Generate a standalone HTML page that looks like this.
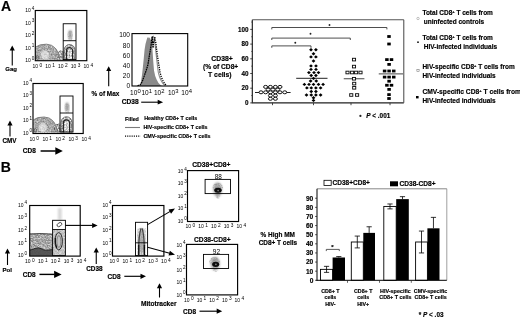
<!DOCTYPE html>
<html lang="en"><head><meta charset="utf-8"><title>Figure</title>
<style>html,body{margin:0;padding:0;background:#fff;overflow:hidden}svg{display:block}text{font-family:'Liberation Sans', sans-serif;fill:#000}text[font-weight=bold]{stroke:#000;stroke-width:0.16px}</style></head><body>
<svg width="520" height="319" viewBox="0 0 520 319">
<defs><filter id="b1" x="-30%" y="-30%" width="160%" height="160%"><feGaussianBlur stdDeviation="0.6"/></filter><filter id="b2" x="-30%" y="-30%" width="160%" height="160%"><feGaussianBlur stdDeviation="1.2"/></filter><filter id="b3" x="-50%" y="-50%" width="200%" height="200%"><feGaussianBlur stdDeviation="2"/></filter><filter id="sp" x="-10%" y="-10%" width="120%" height="120%"><feTurbulence type="fractalNoise" baseFrequency="0.7" numOctaves="2" seed="7" result="n"/><feColorMatrix in="n" type="matrix" values="0 0 0 0 0  0 0 0 0 0  0 0 0 0 0  1.9 0 0 0 -0.5" result="m"/><feComposite in="SourceGraphic" in2="m" operator="in" result="c"/><feGaussianBlur in="c" stdDeviation="0.5"/></filter></defs>
<rect x="0" y="0" width="520" height="319" fill="#fff"/>
<text x="0.9" y="11.4" font-size="14" font-weight="bold" text-anchor="start" >A</text>
<text x="0.7" y="172.2" font-size="14" font-weight="bold" text-anchor="start" >B</text>
<path d="M35.699999999999996,59.8 L35.699999999999996,47.3 Q39.3,44.0 46.5,44.199999999999996 A13.2,15.6 0 0 1 59.7,59.8 L63.2,52.8 L63.2,59.8 Z" fill="#c8c8c8" opacity="0.8" filter="url(#b1)"/>
<g filter="url(#sp)">
<path d="M35.699999999999996,59.8 L35.699999999999996,47.3 Q39.3,44.0 46.5,44.199999999999996 A13.2,15.6 0 0 1 59.7,59.8 Z" fill="#777"/>
<path d="M54.7,59.8 Q57.7,49.8 61.2,50.3 L63.7,51.8 L63.7,59.8 Z" fill="#555"/>
</g>
<g filter="url(#b1)" fill="none">
<path d="M35.9,47.0 Q39.3,44.0 46.5,44.199999999999996 A13.2,15.6 0 0 1 59.7,59.8" stroke="#777" stroke-width="0.9"/>
<path d="M36.1,59.8 A9.8,11.8 0 0 1 55.7,59.8" stroke="#999" stroke-width="0.7"/>
<path d="M38.7,59.8 A6.6,8 0 0 1 51.9,59.8" stroke="#aaa" stroke-width="0.7"/>
<ellipse cx="45.0" cy="54.8" rx="4.2" ry="4.4" fill="#fff" opacity="0.55"/>
<ellipse cx="37.699999999999996" cy="57.599999999999994" rx="1.3" ry="1.8" stroke="#555" stroke-width="0.7"/>
</g>
<line x1="36.3" y1="59.9" x2="63.2" y2="59.9" stroke="#111" stroke-width="1.5" filter="url(#b1)"/>
<line x1="36.199999999999996" y1="59.8" x2="36.199999999999996" y2="47.3" stroke="#333" stroke-width="1.1" filter="url(#b1)"/>
<path d="M64.1,59.8 L64.1,49.8 A5.5,5.5 0 0 1 75.1,49.8 L75.1,59.8 Z" fill="#666" filter="url(#sp)"/>
<g filter="url(#b1)" fill="none">
<path d="M64.3,59.8 L64.3,49.8 A5.3,5.3 0 0 1 74.9,49.8 L74.9,59.8" stroke="#666" stroke-width="0.8"/>
<path d="M66.6,59.8 L66.6,50.5 A3.0,3.0 0 0 1 72.6,50.5 L72.6,59.8" stroke="#222" stroke-width="1.15"/>
<path d="M68.4,59.8 L68.4,51.0 A1.2,1.2 0 0 1 70.8,51.0 L70.8,59.8" stroke="#fff" stroke-width="0.8" opacity="0.9"/>
</g>
<ellipse cx="70.2" cy="34.7" rx="1.7" ry="4.6" fill="#777" opacity="0.75" filter="url(#b2)"/>
<ellipse cx="70.2" cy="35.7" rx="2.6" ry="5.5" fill="#888" opacity="0.5" filter="url(#sp)"/>
<rect x="35.3" y="10.5" width="51.5" height="50.2" fill="none" stroke="#000" stroke-width="1.15" />
<rect x="63.2" y="23.75" width="12.8" height="35.85" fill="none" stroke="#000" stroke-width="0.9" />
<line x1="63.2" y1="40.7" x2="76" y2="40.7" stroke="#000" stroke-width="0.9" />
<text x="25.3" y="62.2" font-size="5" font-weight="normal">10<tspan dx="1.0" dy="-2.4" font-size="4.6">0</tspan></text>
<text x="25.3" y="49.75" font-size="5" font-weight="normal">10<tspan dx="1.0" dy="-2.4" font-size="4.6">1</tspan></text>
<text x="25.3" y="37.3" font-size="5" font-weight="normal">10<tspan dx="1.0" dy="-2.4" font-size="4.6">2</tspan></text>
<text x="25.3" y="24.85" font-size="5" font-weight="normal">10<tspan dx="1.0" dy="-2.4" font-size="4.6">3</tspan></text>
<text x="25.3" y="12.4" font-size="5" font-weight="normal">10<tspan dx="1.0" dy="-2.4" font-size="4.6">4</tspan></text>
<text x="32.6" y="68.2" font-size="5" font-weight="normal">10<tspan dx="1.4" dy="-1.3" font-size="4.8">0</tspan></text>
<text x="45.35" y="68.2" font-size="5" font-weight="normal">10<tspan dx="1.4" dy="-1.3" font-size="4.8">1</tspan></text>
<text x="58.1" y="68.2" font-size="5" font-weight="normal">10<tspan dx="1.4" dy="-1.3" font-size="4.8">2</tspan></text>
<text x="70.85" y="68.2" font-size="5" font-weight="normal">10<tspan dx="1.4" dy="-1.3" font-size="4.8">3</tspan></text>
<text x="83.6" y="68.2" font-size="5" font-weight="normal">10<tspan dx="1.4" dy="-1.3" font-size="4.8">4</tspan></text>
<line x1="12.25" y1="65.6" x2="12.25" y2="50.1" stroke="#000" stroke-width="1.1" />
<polygon points="12.25,45.6 14.85,50.6 9.65,50.6" fill="#000"/>
<text x="11.1" y="71.3" font-size="6" font-weight="bold" text-anchor="middle" >Gag</text>
<path d="M33.4,132.6 L33.4,120.1 Q37,116.8 44.2,117.0 A13.2,15.6 0 0 1 57.4,132.6 L60,125.6 L60,132.6 Z" fill="#c8c8c8" opacity="0.8" filter="url(#b1)"/>
<g filter="url(#sp)">
<path d="M33.4,132.6 L33.4,120.1 Q37,116.8 44.2,117.0 A13.2,15.6 0 0 1 57.4,132.6 Z" fill="#777"/>
<path d="M52.4,132.6 Q55.4,122.6 58.9,123.1 L60.5,124.6 L60.5,132.6 Z" fill="#555"/>
</g>
<g filter="url(#b1)" fill="none">
<path d="M33.6,119.8 Q37,116.8 44.2,117.0 A13.2,15.6 0 0 1 57.4,132.6" stroke="#777" stroke-width="0.9"/>
<path d="M33.8,132.6 A9.8,11.8 0 0 1 53.4,132.6" stroke="#999" stroke-width="0.7"/>
<path d="M36.4,132.6 A6.6,8 0 0 1 49.6,132.6" stroke="#aaa" stroke-width="0.7"/>
<ellipse cx="42.7" cy="127.6" rx="4.2" ry="4.4" fill="#fff" opacity="0.55"/>
<ellipse cx="35.4" cy="130.4" rx="1.3" ry="1.8" stroke="#555" stroke-width="0.7"/>
</g>
<line x1="34" y1="132.7" x2="60" y2="132.7" stroke="#111" stroke-width="1.5" filter="url(#b1)"/>
<line x1="33.9" y1="132.6" x2="33.9" y2="120.1" stroke="#333" stroke-width="1.1" filter="url(#b1)"/>
<path d="M60.9,132.6 L60.9,122.2 A5.6,5.6 0 0 1 72.1,122.2 L72.1,132.6 Z" fill="#666" filter="url(#sp)"/>
<g filter="url(#b1)" fill="none">
<path d="M61.1,132.6 L61.1,122.2 A5.4,5.4 0 0 1 71.9,122.2 L71.9,132.6" stroke="#666" stroke-width="0.8"/>
<path d="M63.4,132.6 L63.4,122.9 A3.1,3.1 0 0 1 69.6,122.9 L69.6,132.6" stroke="#222" stroke-width="1.15"/>
<path d="M65.2,132.6 L65.2,123.4 A1.3,1.3 0 0 1 67.8,123.4 L67.8,132.6" stroke="#fff" stroke-width="0.8" opacity="0.9"/>
</g>
<ellipse cx="67.1" cy="107" rx="1.7" ry="4.6" fill="#777" opacity="0.75" filter="url(#b2)"/>
<ellipse cx="67.1" cy="108" rx="2.6" ry="5.5" fill="#888" opacity="0.5" filter="url(#sp)"/>
<rect x="33" y="83.5" width="50.2" height="50.0" fill="none" stroke="#000" stroke-width="1.15" />
<rect x="60" y="96" width="13" height="36" fill="none" stroke="#000" stroke-width="0.9" />
<line x1="60" y1="113" x2="73" y2="113" stroke="#000" stroke-width="0.9" />
<text x="23" y="134.8" font-size="5" font-weight="normal">10<tspan dx="1.0" dy="-2.4" font-size="4.6">0</tspan></text>
<text x="23" y="122.3" font-size="5" font-weight="normal">10<tspan dx="1.0" dy="-2.4" font-size="4.6">1</tspan></text>
<text x="23" y="109.8" font-size="5" font-weight="normal">10<tspan dx="1.0" dy="-2.4" font-size="4.6">2</tspan></text>
<text x="23" y="97.3" font-size="5" font-weight="normal">10<tspan dx="1.0" dy="-2.4" font-size="4.6">3</tspan></text>
<text x="23" y="84.8" font-size="5" font-weight="normal">10<tspan dx="1.0" dy="-2.4" font-size="4.6">4</tspan></text>
<text x="29.4" y="141.0" font-size="5" font-weight="normal">10<tspan dx="1.4" dy="-1.3" font-size="4.8">0</tspan></text>
<text x="42.4" y="141.0" font-size="5" font-weight="normal">10<tspan dx="1.4" dy="-1.3" font-size="4.8">1</tspan></text>
<text x="55.4" y="141.0" font-size="5" font-weight="normal">10<tspan dx="1.4" dy="-1.3" font-size="4.8">2</tspan></text>
<text x="68.4" y="141.0" font-size="5" font-weight="normal">10<tspan dx="1.4" dy="-1.3" font-size="4.8">3</tspan></text>
<text x="81.4" y="141.0" font-size="5" font-weight="normal">10<tspan dx="1.4" dy="-1.3" font-size="4.8">4</tspan></text>
<line x1="10" y1="136.5" x2="10.0" y2="125.0" stroke="#000" stroke-width="1.1" />
<polygon points="10,120.5 12.6,125.5 7.4,125.5" fill="#000"/>
<text x="9.5" y="143" font-size="6.3" font-weight="bold" text-anchor="middle" >CMV</text>
<text x="22.8" y="153.1" font-size="6.5" font-weight="bold" text-anchor="start" >CD8</text>
<line x1="40.6" y1="151" x2="55.8" y2="151.0" stroke="#000" stroke-width="1.5" />
<polygon points="62.8,151 55.3,154.7 55.3,147.3" fill="#000"/>
<path d="M139.3,86 L140.8,83 L142,75 L142.9,67 L143.8,58 L144.6,49.5 L145.5,44 L146.4,40.8 L147.2,38 L148.1,36.9 L149,38.5 L149.8,37.3 L150.6,40 L151.3,39 L152,43 L152.7,53 L153.3,62 L154,70.6 L155.2,76 L156.6,79.4 L158.5,83 L160.5,85 L162,86 Z" fill="#8a8a8a"/>
<path d="M142,86 L144,82 L146,74 L148,63 L149.5,53 L151,44 L152.5,38 L153.6,36.5 L154.8,42.5 L155.7,50 L156.6,58.3 L157.5,66 L158.3,72.4 L159.6,77 L161,80.2 L162.8,83.5 L165,85.5" fill="none" stroke="#8c8c8c" stroke-width="1.1"/>
<path d="M137.5,85.7 L140,85 L142,82 L144.3,75.9 L146,71 L147.8,65.3 L148.7,60 L149.5,54.8 L150.3,50 L151,46 L151.6,40 L152.2,36.6 L152.6,42 L153,47.8 L153.5,44 L154,40.8 L154.8,37.3" fill="none" stroke="#000" stroke-width="1.25" stroke-dasharray="1.7 0.6" stroke-linejoin="round"/>
<path d="M154.8,37.3 L155.7,42 L156.6,49.5 L157.5,56 L158.3,61.8 L159.2,67 L160,72.4 L161.3,77 L162.7,80.2 L164.5,83.5 L166.5,85.6" fill="none" stroke="#000" stroke-width="1.35" stroke-dasharray="1.2 1.1"/>
<rect x="132" y="33.6" width="55.7" height="52.4" fill="none" stroke="#000" stroke-width="1.1" />
<text x="130" y="88.3" font-size="6.5" font-weight="normal" text-anchor="end" >0</text>
<text x="130" y="78.1" font-size="6.5" font-weight="normal" text-anchor="end" >20</text>
<text x="130" y="67.9" font-size="6.5" font-weight="normal" text-anchor="end" >40</text>
<text x="130" y="57.7" font-size="6.5" font-weight="normal" text-anchor="end" >60</text>
<text x="130" y="47.5" font-size="6.5" font-weight="normal" text-anchor="end" >80</text>
<text x="130" y="37.3" font-size="6.5" font-weight="normal" text-anchor="end" >100</text>
<text x="130.1" y="95.2" font-size="6.5" font-weight="normal">10<tspan dx="0.1" dy="-2" font-size="5.9">0</tspan></text>
<text x="141.4" y="95.2" font-size="6.5" font-weight="normal">10<tspan dx="0.1" dy="-2" font-size="5.9">1</tspan></text>
<text x="153.9" y="95.2" font-size="6.5" font-weight="normal">10<tspan dx="0.1" dy="-2" font-size="5.9">2</tspan></text>
<text x="168.0" y="95.2" font-size="6.5" font-weight="normal">10<tspan dx="0.1" dy="-2" font-size="5.9">3</tspan></text>
<text x="181.3" y="95.2" font-size="6.5" font-weight="normal">10<tspan dx="0.1" dy="-2" font-size="5.9">4</tspan></text>
<text x="121.7" y="104.3" font-size="6.6" font-weight="bold" text-anchor="start" >CD38</text>
<line x1="141.2" y1="102.2" x2="158.2" y2="102.2" stroke="#000" stroke-width="1.1" />
<polygon points="163.1,102.2 157.7,104.6 157.7,99.8" fill="#000"/>
<line x1="108.7" y1="86.3" x2="108.7" y2="70.5" stroke="#000" stroke-width="1.1" />
<polygon points="108.7,66.2 111.2,71.0 106.2,71.0" fill="#000"/>
<text x="105.4" y="96.4" font-size="6.4" font-weight="bold" text-anchor="middle" >% of Max</text>
<text x="125" y="120.6" font-size="5.3" font-weight="bold" text-anchor="start" >Filled</text>
<text x="144.2" y="120.3" font-size="5.4" font-weight="bold" text-anchor="start" >Healthy CD8+ T cells</text>
<line x1="125" y1="127.5" x2="140" y2="127.5" stroke="#7a7a7a" stroke-width="1.1" />
<text x="143.5" y="129" font-size="5.37" font-weight="bold" text-anchor="start" >HIV-specific CD8+ T cells</text>
<line x1="125" y1="136.1" x2="140.5" y2="136.1" stroke="#000" stroke-width="1.3" stroke-dasharray="1.1 1.1"/>
<text x="143.5" y="137.9" font-size="5.37" font-weight="bold" text-anchor="start" >CMV-specific CD8+ T cells</text>
<text x="222" y="61" font-size="6.8" font-weight="bold" text-anchor="middle" >CD38+</text>
<text x="220.6" y="69.2" font-size="6.65" font-weight="bold" text-anchor="middle" >(% of CD8+</text>
<text x="219.8" y="76.8" font-size="6.8" font-weight="bold" text-anchor="middle" >T cells)</text>
<text x="248.6" y="105.15" font-size="6.3" font-weight="bold" text-anchor="end" >0</text>
<line x1="250.2" y1="102.9" x2="252.3" y2="102.9" stroke="#222" stroke-width="0.8" />
<text x="248.6" y="90.45" font-size="6.3" font-weight="bold" text-anchor="end" >20</text>
<line x1="250.2" y1="88.2" x2="252.3" y2="88.2" stroke="#222" stroke-width="0.8" />
<text x="248.6" y="75.75" font-size="6.3" font-weight="bold" text-anchor="end" >40</text>
<line x1="250.2" y1="73.5" x2="252.3" y2="73.5" stroke="#222" stroke-width="0.8" />
<text x="248.6" y="61.05" font-size="6.3" font-weight="bold" text-anchor="end" >60</text>
<line x1="250.2" y1="58.8" x2="252.3" y2="58.8" stroke="#222" stroke-width="0.8" />
<text x="248.6" y="46.35" font-size="6.3" font-weight="bold" text-anchor="end" >80</text>
<line x1="250.2" y1="44.1" x2="252.3" y2="44.1" stroke="#222" stroke-width="0.8" />
<text x="248.6" y="31.65" font-size="6.3" font-weight="bold" text-anchor="end" >100</text>
<line x1="250.2" y1="29.4" x2="252.3" y2="29.4" stroke="#222" stroke-width="0.8" />
<line x1="251" y1="95.55" x2="252.3" y2="95.55" stroke="#444" stroke-width="0.6" />
<line x1="251" y1="80.85" x2="252.3" y2="80.85" stroke="#444" stroke-width="0.6" />
<line x1="251" y1="66.15" x2="252.3" y2="66.15" stroke="#444" stroke-width="0.6" />
<line x1="251" y1="51.45" x2="252.3" y2="51.45" stroke="#444" stroke-width="0.6" />
<line x1="251" y1="36.75" x2="252.3" y2="36.75" stroke="#444" stroke-width="0.6" />
<line x1="251" y1="22.05" x2="252.3" y2="22.05" stroke="#444" stroke-width="0.6" />
<line x1="252.3" y1="19.8" x2="252.3" y2="102.8" stroke="#111" stroke-width="1.1" />
<line x1="251.8" y1="102.8" x2="403.8" y2="102.8" stroke="#222" stroke-width="1.2" />
<line x1="252.3" y1="19.8" x2="403.8" y2="19.8" stroke="#555" stroke-width="1.1" />
<line x1="403.8" y1="19.8" x2="403.8" y2="102.8" stroke="#444" stroke-width="1.0" />
<line x1="272.5" y1="102.8" x2="272.5" y2="105.2" stroke="#333" stroke-width="0.9" />
<line x1="313.5" y1="102.8" x2="313.5" y2="105.2" stroke="#333" stroke-width="0.9" />
<line x1="351" y1="102.8" x2="351" y2="105.2" stroke="#333" stroke-width="0.9" />
<line x1="390" y1="102.8" x2="390" y2="105.2" stroke="#333" stroke-width="0.9" />
<path d="M271.8,29.4 L271.8,27.5 L386.9,27.5 L386.9,29.4" fill="none" stroke="#3a3a3a" stroke-width="0.9"/>
<path d="M271.8,40.0 L271.8,38.1 L350.3,38.1 L350.3,40.0" fill="none" stroke="#3a3a3a" stroke-width="0.9"/>
<path d="M271.8,47.8 L271.8,45.9 L311,45.9 L311,47.8" fill="none" stroke="#3a3a3a" stroke-width="0.9"/>
<circle cx="329.5" cy="25" r="0.95" fill="#222"/>
<circle cx="310.5" cy="33.8" r="0.95" fill="#222"/>
<circle cx="295.3" cy="42.7" r="0.95" fill="#222"/>
<line x1="255" y1="92.5" x2="290.6" y2="92.5" stroke="#222" stroke-width="1" />
<ellipse cx="265.6" cy="86.9" rx="2.0" ry="1.5" fill="#fff" stroke="#111" stroke-width="1"/>
<ellipse cx="270.4" cy="86.9" rx="2.0" ry="1.5" fill="#fff" stroke="#111" stroke-width="1"/>
<ellipse cx="275.4" cy="86.9" rx="2.0" ry="1.5" fill="#fff" stroke="#111" stroke-width="1"/>
<ellipse cx="280" cy="86.9" rx="2.0" ry="1.5" fill="#fff" stroke="#111" stroke-width="1"/>
<ellipse cx="268.1" cy="89.6" rx="2.0" ry="1.5" fill="#fff" stroke="#111" stroke-width="1"/>
<ellipse cx="272.9" cy="89.6" rx="2.0" ry="1.5" fill="#fff" stroke="#111" stroke-width="1"/>
<ellipse cx="277.75" cy="89.6" rx="2.0" ry="1.5" fill="#fff" stroke="#111" stroke-width="1"/>
<ellipse cx="261" cy="92.3" rx="2.0" ry="1.5" fill="#fff" stroke="#111" stroke-width="1"/>
<ellipse cx="265.6" cy="92.3" rx="2.0" ry="1.5" fill="#fff" stroke="#111" stroke-width="1"/>
<ellipse cx="270.4" cy="92.3" rx="2.0" ry="1.5" fill="#fff" stroke="#111" stroke-width="1"/>
<ellipse cx="275.4" cy="92.3" rx="2.0" ry="1.5" fill="#fff" stroke="#111" stroke-width="1"/>
<ellipse cx="280" cy="92.3" rx="2.0" ry="1.5" fill="#fff" stroke="#111" stroke-width="1"/>
<ellipse cx="284.75" cy="92.3" rx="2.0" ry="1.5" fill="#fff" stroke="#111" stroke-width="1"/>
<ellipse cx="270.4" cy="95.6" rx="2.0" ry="1.5" fill="#fff" stroke="#111" stroke-width="1"/>
<ellipse cx="275.4" cy="95.6" rx="2.0" ry="1.5" fill="#fff" stroke="#111" stroke-width="1"/>
<ellipse cx="270.4" cy="98.8" rx="2.0" ry="1.5" fill="#fff" stroke="#111" stroke-width="1"/>
<ellipse cx="275.4" cy="98.8" rx="2.0" ry="1.5" fill="#fff" stroke="#111" stroke-width="1"/>
<line x1="296.2" y1="78.3" x2="327.5" y2="78.3" stroke="#222" stroke-width="1" />
<path d="M309.1,49.75 L311,48.05 L312.9,49.75 L311,51.45 Z" fill="#000"/>
<path d="M314.0,49.75 L315.9,48.05 L317.79999999999995,49.75 L315.9,51.45 Z" fill="#000"/>
<path d="M311.6,53.75 L313.5,52.05 L315.4,53.75 L313.5,55.45 Z" fill="#000"/>
<path d="M309.1,56.9 L311,55.199999999999996 L312.9,56.9 L311,58.6 Z" fill="#000"/>
<path d="M314.0,56.9 L315.9,55.199999999999996 L317.79999999999995,56.9 L315.9,58.6 Z" fill="#000"/>
<path d="M311.6,61 L313.5,59.3 L315.4,61 L313.5,62.7 Z" fill="#000"/>
<path d="M309.1,65.9 L311,64.2 L312.9,65.9 L311,67.60000000000001 Z" fill="#000"/>
<path d="M314.1,65.9 L316,64.2 L317.9,65.9 L316,67.60000000000001 Z" fill="#000"/>
<path d="M309.1,69.4 L311,67.7 L312.9,69.4 L311,71.10000000000001 Z" fill="#000"/>
<path d="M314.1,69.4 L316,67.7 L317.9,69.4 L316,71.10000000000001 Z" fill="#000"/>
<path d="M307.0,72.6 L308.9,70.89999999999999 L310.79999999999995,72.6 L308.9,74.3 Z" fill="#000"/>
<path d="M312.1,72.6 L314,70.89999999999999 L315.9,72.6 L314,74.3 Z" fill="#000"/>
<path d="M316.6,72.6 L318.5,70.89999999999999 L320.4,72.6 L318.5,74.3 Z" fill="#000"/>
<path d="M309.3,75.5 L311.2,73.8 L313.09999999999997,75.5 L311.2,77.2 Z" fill="#000"/>
<path d="M314.0,75.5 L315.9,73.8 L317.79999999999995,75.5 L315.9,77.2 Z" fill="#000"/>
<path d="M311.6,78.4 L313.5,76.7 L315.4,78.4 L313.5,80.10000000000001 Z" fill="#000"/>
<path d="M308.70000000000005,81 L310.6,79.3 L312.5,81 L310.6,82.7 Z" fill="#000"/>
<path d="M314.35,81 L316.25,79.3 L318.15,81 L316.25,82.7 Z" fill="#000"/>
<path d="M302.5,84.4 L304.4,82.7 L306.29999999999995,84.4 L304.4,86.10000000000001 Z" fill="#000"/>
<path d="M307.1,84.4 L309,82.7 L310.9,84.4 L309,86.10000000000001 Z" fill="#000"/>
<path d="M311.6,84.4 L313.5,82.7 L315.4,84.4 L313.5,86.10000000000001 Z" fill="#000"/>
<path d="M316.6,84.4 L318.5,82.7 L320.4,84.4 L318.5,86.10000000000001 Z" fill="#000"/>
<path d="M321.20000000000005,84.4 L323.1,82.7 L325.0,84.4 L323.1,86.10000000000001 Z" fill="#000"/>
<path d="M305.0,87.9 L306.9,86.2 L308.79999999999995,87.9 L306.9,89.60000000000001 Z" fill="#000"/>
<path d="M309.35,87.9 L311.25,86.2 L313.15,87.9 L311.25,89.60000000000001 Z" fill="#000"/>
<path d="M314.0,87.9 L315.9,86.2 L317.79999999999995,87.9 L315.9,89.60000000000001 Z" fill="#000"/>
<path d="M318.70000000000005,87.9 L320.6,86.2 L322.5,87.9 L320.6,89.60000000000001 Z" fill="#000"/>
<path d="M309.35,91.5 L311.25,89.8 L313.15,91.5 L311.25,93.2 Z" fill="#000"/>
<path d="M314.0,91.5 L315.9,89.8 L317.79999999999995,91.5 L315.9,93.2 Z" fill="#000"/>
<path d="M304.6,95 L306.5,93.3 L308.4,95 L306.5,96.7 Z" fill="#000"/>
<path d="M309.35,95 L311.25,93.3 L313.15,95 L311.25,96.7 Z" fill="#000"/>
<path d="M314.0,95 L315.9,93.3 L317.79999999999995,95 L315.9,96.7 Z" fill="#000"/>
<path d="M318.70000000000005,95 L320.6,93.3 L322.5,95 L320.6,96.7 Z" fill="#000"/>
<path d="M311.6,97.75 L313.5,96.05 L315.4,97.75 L313.5,99.45 Z" fill="#000"/>
<path d="M311.6,100.4 L313.5,98.7 L315.4,100.4 L313.5,102.10000000000001 Z" fill="#000"/>
<line x1="343.75" y1="78.75" x2="364.4" y2="78.75" stroke="#444" stroke-width="1" />
<rect x="352.45" y="58.3" width="3.1" height="2.6" fill="#fff" stroke="#111" stroke-width="0.95"/>
<rect x="352.45" y="65.3" width="3.1" height="2.6" fill="#fff" stroke="#111" stroke-width="0.95"/>
<rect x="345.95" y="71.2" width="3.1" height="2.6" fill="#fff" stroke="#111" stroke-width="0.95"/>
<rect x="350.55" y="71.2" width="3.1" height="2.6" fill="#fff" stroke="#111" stroke-width="0.95"/>
<rect x="354.55" y="71.2" width="3.1" height="2.6" fill="#fff" stroke="#111" stroke-width="0.95"/>
<rect x="358.95" y="71.2" width="3.1" height="2.6" fill="#fff" stroke="#111" stroke-width="0.95"/>
<rect x="352.45" y="77.45" width="3.1" height="2.6" fill="#fff" stroke="#111" stroke-width="0.95"/>
<rect x="352.65" y="82.3" width="3.1" height="2.6" fill="#fff" stroke="#111" stroke-width="0.95"/>
<rect x="352.65" y="86.5" width="3.1" height="2.6" fill="#fff" stroke="#111" stroke-width="0.95"/>
<rect x="349.7" y="93.7" width="3.1" height="2.6" fill="#fff" stroke="#111" stroke-width="0.95"/>
<rect x="355.55" y="93.7" width="3.1" height="2.6" fill="#fff" stroke="#111" stroke-width="0.95"/>
<line x1="378.75" y1="73.9" x2="403" y2="73.9" stroke="#444" stroke-width="1" />
<rect x="387.25" y="35.1" width="3.5" height="2.8" fill="#000"/>
<rect x="387.25" y="42.6" width="3.5" height="2.8" fill="#000"/>
<rect x="385.15" y="58.2" width="3.5" height="2.8" fill="#000"/>
<rect x="389.75" y="58.2" width="3.5" height="2.8" fill="#000"/>
<rect x="387.35" y="63.00000000000001" width="3.5" height="2.8" fill="#000"/>
<rect x="382.85" y="69.6" width="3.5" height="2.8" fill="#000"/>
<rect x="387.35" y="69.6" width="3.5" height="2.8" fill="#000"/>
<rect x="392.0" y="69.6" width="3.5" height="2.8" fill="#000"/>
<rect x="382.85" y="75.69999999999999" width="3.5" height="2.8" fill="#000"/>
<rect x="387.35" y="75.69999999999999" width="3.5" height="2.8" fill="#000"/>
<rect x="392.0" y="75.69999999999999" width="3.5" height="2.8" fill="#000"/>
<rect x="387.35" y="79.8" width="3.5" height="2.8" fill="#000"/>
<rect x="385.15" y="83.85" width="3.5" height="2.8" fill="#000"/>
<rect x="389.75" y="83.85" width="3.5" height="2.8" fill="#000"/>
<rect x="387.35" y="88.0" width="3.5" height="2.8" fill="#000"/>
<rect x="387.25" y="93.19999999999999" width="3.5" height="2.8" fill="#000"/>
<rect x="387.25" y="97.1" width="3.5" height="2.8" fill="#000"/>
<circle cx="360.4" cy="115.9" r="1.1" fill="#222"/>
<text x="366.3" y="118.2" font-size="6.4" font-weight="bold"><tspan font-style="italic">P</tspan> &lt; .001</text>
<text x="422.4" y="15" font-size="6.5" font-weight="bold">Total CD8<tspan dy="-2" font-size="4">+</tspan><tspan dy="2"> T cells from</tspan></text>
<text x="423.8" y="23.5" font-size="6.5" font-weight="bold" text-anchor="start" >uninfected controls</text>
<circle cx="418" cy="18.5" r="1.2" fill="#fff" stroke="#999" stroke-width="0.6"/>
<text x="422.4" y="40.3" font-size="6.5" font-weight="bold">Total CD8<tspan dy="-2" font-size="4">+</tspan><tspan dy="2"> T cells from</tspan></text>
<text x="423.8" y="48.6" font-size="6.5" font-weight="bold" text-anchor="start" >HIV-infected individuals</text>
<circle cx="418" cy="42.2" r="0.9" fill="#111"/>
<text x="422.4" y="68.8" font-size="6.5" font-weight="bold">HIV-specific CD8<tspan dy="-2" font-size="4">+</tspan><tspan dy="2"> T cells from</tspan></text>
<text x="422.4" y="77.8" font-size="6.5" font-weight="bold" text-anchor="start" >HIV-infected individuals</text>
<rect x="416.9" y="69.7" width="2.2" height="2" fill="#fff" stroke="#666" stroke-width="0.5"/>
<text x="422.4" y="94.3" font-size="6.7" font-weight="bold">CMV-specific CD8<tspan dy="-2" font-size="4">+</tspan><tspan dy="2"> T cells from</tspan></text>
<text x="422.4" y="103" font-size="6.5" font-weight="bold" text-anchor="start" >HIV-infected individuals</text>
<rect x="416" y="96" width="2.6" height="2.4" fill="#000"/>
<rect x="30" y="233.5" width="22.5" height="21.5" fill="#cdcdcd" opacity="0.85" filter="url(#b1)"/>
<rect x="30" y="233.5" width="22.5" height="21.5" fill="#777" filter="url(#sp)"/>
<rect x="53" y="230" width="12" height="25" fill="#d6d6d6" opacity="0.8" filter="url(#b1)"/>
<rect x="53" y="230" width="12" height="25" fill="#888" opacity="0.7" filter="url(#sp)"/>
<g filter="url(#b1)">
<path d="M30,234 Q41,233 52.5,234.3" stroke="#444" stroke-width="1" fill="none"/>
<path d="M30,240.5 Q40,239.3 52.5,240.8" stroke="#888" stroke-width="0.8" fill="none"/>
<path d="M30,250 Q33.5,249.5 35,248.3 Q38.5,247 42,249 Q44,250.6 47,250.2 L52.5,249.6 L52.5,256 L30,256 Z" fill="#4a4a4a" opacity="0.9"/>
<path d="M30,250 Q33.5,249.5 35,248.3 Q38.5,247 42,249 Q44,250.6 47,250.2 L52.5,249.6" stroke="#222" stroke-width="0.9" fill="none"/>
<ellipse cx="58.7" cy="241.2" rx="3.7" ry="8.6" fill="#c4c4c4" stroke="#2a2a2a" stroke-width="1"/>
<ellipse cx="58.9" cy="241.5" rx="2" ry="6" fill="none" stroke="#666" stroke-width="0.7"/>
<path d="M55.3,238 Q54.8,243 56.8,248" stroke="#111" stroke-width="1.1" fill="none"/>
<ellipse cx="59.4" cy="224.6" rx="2.6" ry="1.7" fill="none" stroke="#333" stroke-width="0.8" transform="rotate(-35 59.4 224.6)"/>
</g>
<line x1="30.4" y1="255" x2="30.4" y2="232.5" stroke="#222" stroke-width="1.4" filter="url(#b1)"/>
<line x1="30" y1="255.5" x2="65" y2="255.5" stroke="#111" stroke-width="1.4" filter="url(#b1)"/>
<rect x="58" y="208" width="3.6" height="12" fill="#ccc" opacity="0.8" filter="url(#b2)"/>
<rect x="29.7" y="205.5" width="50.5" height="50.6" fill="none" stroke="#000" stroke-width="1.15" />
<rect x="52.6" y="220.3" width="12.8" height="35.3" fill="none" stroke="#000" stroke-width="0.9" />
<line x1="52.6" y1="229.5" x2="65.4" y2="229.5" stroke="#000" stroke-width="0.9" />
<text x="17.9" y="257.1" font-size="5" font-weight="normal">10<tspan dx="1.0" dy="-2.4" font-size="4.6">0</tspan></text>
<text x="17.9" y="244.5" font-size="5" font-weight="normal">10<tspan dx="1.0" dy="-2.4" font-size="4.6">1</tspan></text>
<text x="17.9" y="231.9" font-size="5" font-weight="normal">10<tspan dx="1.0" dy="-2.4" font-size="4.6">2</tspan></text>
<text x="17.9" y="219.3" font-size="5" font-weight="normal">10<tspan dx="1.0" dy="-2.4" font-size="4.6">3</tspan></text>
<text x="17.9" y="206.7" font-size="5" font-weight="normal">10<tspan dx="1.0" dy="-2.4" font-size="4.6">4</tspan></text>
<text x="25.0" y="263" font-size="5" font-weight="normal">10<tspan dx="1.4" dy="-1.3" font-size="4.8">0</tspan></text>
<text x="37.93" y="263" font-size="5" font-weight="normal">10<tspan dx="1.4" dy="-1.3" font-size="4.8">1</tspan></text>
<text x="50.86" y="263" font-size="5" font-weight="normal">10<tspan dx="1.4" dy="-1.3" font-size="4.8">2</tspan></text>
<text x="63.79" y="263" font-size="5" font-weight="normal">10<tspan dx="1.4" dy="-1.3" font-size="4.8">3</tspan></text>
<text x="76.72" y="263" font-size="5" font-weight="normal">10<tspan dx="1.4" dy="-1.3" font-size="4.8">4</tspan></text>
<line x1="65.4" y1="225.4" x2="92.6" y2="225.4" stroke="#000" stroke-width="1.1" />
<polygon points="97.6,225.4 92.1,227.9 92.1,222.9" fill="#000"/>
<line x1="7.5" y1="265" x2="7.5" y2="252.9" stroke="#000" stroke-width="1.1" />
<polygon points="7.5,248.4 10.1,253.4 4.9,253.4" fill="#000"/>
<text x="7.2" y="271.7" font-size="6" font-weight="bold" text-anchor="middle" >Pol</text>
<text x="22.8" y="276.8" font-size="6.4" font-weight="bold" text-anchor="start" >CD8</text>
<line x1="39.4" y1="274.4" x2="54.6" y2="274.4" stroke="#000" stroke-width="1.4" />
<polygon points="61.6,274.4 54.1,277.95 54.1,270.85" fill="#000"/>
<ellipse cx="141.5" cy="241" rx="3.6" ry="13" fill="#aaa" opacity="0.8" filter="url(#b2)"/>
<rect x="137.2" y="228" width="8.6" height="27" fill="#888" opacity="0.6" filter="url(#sp)"/>
<g filter="url(#b1)">
<path d="M138.7,255 L138.8,244 Q139.2,234 141,228.5" stroke="#444" stroke-width="1.2" fill="none"/>
<path d="M144.4,255 L144.2,244 Q143.8,234 142.2,228.5" stroke="#444" stroke-width="1.2" fill="none"/>
<path d="M138.7,255 L138.7,245" stroke="#111" stroke-width="1.3" fill="none"/>
<path d="M144.4,255 L144.3,245" stroke="#111" stroke-width="1.3" fill="none"/>
<path d="M141.5,255 L141.5,240" stroke="#aaa" stroke-width="0.8" fill="none"/>
</g>
<rect x="112.5" y="205.5" width="51.4" height="50.6" fill="none" stroke="#000" stroke-width="1.15" />
<rect x="135.5" y="222.3" width="12.1" height="33.3" fill="none" stroke="#000" stroke-width="0.9" />
<line x1="135.4" y1="242.8" x2="147.6" y2="242.8" stroke="#000" stroke-width="0.9" />
<text x="102.5" y="257.2" font-size="5" font-weight="normal">10<tspan dx="1.0" dy="-2.4" font-size="4.6">0</tspan></text>
<text x="102.5" y="244.6" font-size="5" font-weight="normal">10<tspan dx="1.0" dy="-2.4" font-size="4.6">1</tspan></text>
<text x="102.5" y="232.0" font-size="5" font-weight="normal">10<tspan dx="1.0" dy="-2.4" font-size="4.6">2</tspan></text>
<text x="102.5" y="219.4" font-size="5" font-weight="normal">10<tspan dx="1.0" dy="-2.4" font-size="4.6">3</tspan></text>
<text x="102.5" y="206.8" font-size="5" font-weight="normal">10<tspan dx="1.0" dy="-2.4" font-size="4.6">4</tspan></text>
<text x="109.6" y="263" font-size="5" font-weight="normal">10<tspan dx="1.4" dy="-1.3" font-size="4.8">0</tspan></text>
<text x="122.48" y="263" font-size="5" font-weight="normal">10<tspan dx="1.4" dy="-1.3" font-size="4.8">1</tspan></text>
<text x="135.36" y="263" font-size="5" font-weight="normal">10<tspan dx="1.4" dy="-1.3" font-size="4.8">2</tspan></text>
<text x="148.24" y="263" font-size="5" font-weight="normal">10<tspan dx="1.4" dy="-1.3" font-size="4.8">3</tspan></text>
<text x="161.12" y="263" font-size="5" font-weight="normal">10<tspan dx="1.4" dy="-1.3" font-size="4.8">4</tspan></text>
<line x1="147.6" y1="224.6" x2="170.25" y2="211.37" stroke="#000" stroke-width="1.1" />
<polygon points="175,208.6 171.08,213.78 168.56,209.47" fill="#000"/>
<line x1="147.6" y1="247.3" x2="169.69" y2="253.27" stroke="#000" stroke-width="1.1" />
<polygon points="175,254.7 168.56,255.55 169.86,250.72" fill="#000"/>
<line x1="96.25" y1="264" x2="96.25" y2="251.9" stroke="#000" stroke-width="1.1" />
<polygon points="96.25,247.4 98.85,252.4 93.65,252.4" fill="#000"/>
<text x="94.4" y="270.7" font-size="6.4" font-weight="bold" text-anchor="middle" >CD38</text>
<text x="107.5" y="278.6" font-size="6.5" font-weight="bold" text-anchor="start" >CD8</text>
<line x1="124.3" y1="276.3" x2="141.0" y2="276.3" stroke="#000" stroke-width="1.15" />
<polygon points="146,276.3 140.5,278.9 140.5,273.7" fill="#000"/>
<line x1="159.5" y1="297.5" x2="159.5" y2="287.7" stroke="#000" stroke-width="1.1" />
<polygon points="159.5,283.2 162.1,288.2 156.9,288.2" fill="#000"/>
<text x="158.7" y="306" font-size="6.6" font-weight="bold" text-anchor="middle" >Mitotracker</text>
<text x="211.3" y="166.8" font-size="6.7" font-weight="bold" text-anchor="middle" >CD38+CD8+</text>
<ellipse cx="217.6" cy="189.6" rx="4.4" ry="7.4" fill="#8a8a8a" opacity="0.7" filter="url(#b2)"/>
<ellipse cx="217.8" cy="187.5" rx="5.2" ry="4.6" fill="#777" opacity="0.55" filter="url(#sp)"/>
<ellipse cx="217.9" cy="195" rx="2.2" ry="4" fill="#888" opacity="0.5" filter="url(#sp)"/>
<ellipse cx="218" cy="190.3" rx="3.7" ry="2.5" fill="#0a0a0a" filter="url(#b1)"/>
<ellipse cx="218.1" cy="190.6" rx="0.7" ry="0.8" fill="#999" filter="url(#b1)"/>
<rect x="187.5" y="170.6" width="51.1" height="50.9" fill="none" stroke="#000" stroke-width="1.15" />
<rect x="205.1" y="179.4" width="25.4" height="14.2" fill="none" stroke="#000" stroke-width="0.9" />
<text x="218.2" y="178.8" font-size="6.4" font-weight="normal" text-anchor="middle" fill="#333">88</text>
<text x="177.8" y="222.6" font-size="5" font-weight="normal">10<tspan dx="1.0" dy="-2.4" font-size="4.6">0</tspan></text>
<text x="177.8" y="210.2" font-size="5" font-weight="normal">10<tspan dx="1.0" dy="-2.4" font-size="4.6">1</tspan></text>
<text x="177.8" y="197.8" font-size="5" font-weight="normal">10<tspan dx="1.0" dy="-2.4" font-size="4.6">2</tspan></text>
<text x="177.8" y="185.4" font-size="5" font-weight="normal">10<tspan dx="1.0" dy="-2.4" font-size="4.6">3</tspan></text>
<text x="177.8" y="173.0" font-size="5" font-weight="normal">10<tspan dx="1.0" dy="-2.4" font-size="4.6">4</tspan></text>
<text x="185.6" y="228.4" font-size="5" font-weight="normal">10<tspan dx="1.4" dy="-1.3" font-size="4.8">0</tspan></text>
<text x="198.32" y="228.4" font-size="5" font-weight="normal">10<tspan dx="1.4" dy="-1.3" font-size="4.8">1</tspan></text>
<text x="211.04" y="228.4" font-size="5" font-weight="normal">10<tspan dx="1.4" dy="-1.3" font-size="4.8">2</tspan></text>
<text x="223.76" y="228.4" font-size="5" font-weight="normal">10<tspan dx="1.4" dy="-1.3" font-size="4.8">3</tspan></text>
<text x="236.48" y="228.4" font-size="5" font-weight="normal">10<tspan dx="1.4" dy="-1.3" font-size="4.8">4</tspan></text>
<text x="212.3" y="242.3" font-size="6.7" font-weight="bold" text-anchor="middle" >CD38-CD8+</text>
<ellipse cx="215.2" cy="263.6" rx="4.6" ry="6.8" fill="#8a8a8a" opacity="0.7" filter="url(#b2)"/>
<ellipse cx="214.6" cy="261.5" rx="5.4" ry="4.4" fill="#777" opacity="0.55" filter="url(#sp)"/>
<ellipse cx="215.3" cy="268.5" rx="2.2" ry="3.6" fill="#888" opacity="0.5" filter="url(#sp)"/>
<ellipse cx="215.7" cy="264.3" rx="3.5" ry="2.6" fill="#0a0a0a" filter="url(#b1)"/>
<ellipse cx="215.9" cy="264.4" rx="0.7" ry="0.8" fill="#999" filter="url(#b1)"/>
<rect x="186.5" y="244.4" width="51.1" height="50.5" fill="none" stroke="#000" stroke-width="1.15" />
<rect x="203.5" y="254.4" width="25.1" height="14.1" fill="none" stroke="#000" stroke-width="0.9" />
<text x="216.4" y="253.9" font-size="6.6" font-weight="normal" text-anchor="middle" fill="#333">92</text>
<text x="176.5" y="296.6" font-size="5" font-weight="normal">10<tspan dx="1.0" dy="-2.4" font-size="4.6">0</tspan></text>
<text x="176.5" y="284.1" font-size="5" font-weight="normal">10<tspan dx="1.0" dy="-2.4" font-size="4.6">1</tspan></text>
<text x="176.5" y="271.6" font-size="5" font-weight="normal">10<tspan dx="1.0" dy="-2.4" font-size="4.6">2</tspan></text>
<text x="176.5" y="259.1" font-size="5" font-weight="normal">10<tspan dx="1.0" dy="-2.4" font-size="4.6">3</tspan></text>
<text x="176.5" y="246.6" font-size="5" font-weight="normal">10<tspan dx="1.0" dy="-2.4" font-size="4.6">4</tspan></text>
<text x="184.0" y="301.5" font-size="5" font-weight="normal">10<tspan dx="1.4" dy="-1.3" font-size="4.8">0</tspan></text>
<text x="196.65" y="301.5" font-size="5" font-weight="normal">10<tspan dx="1.4" dy="-1.3" font-size="4.8">1</tspan></text>
<text x="209.3" y="301.5" font-size="5" font-weight="normal">10<tspan dx="1.4" dy="-1.3" font-size="4.8">2</tspan></text>
<text x="221.95" y="301.5" font-size="5" font-weight="normal">10<tspan dx="1.4" dy="-1.3" font-size="4.8">3</tspan></text>
<text x="234.6" y="301.5" font-size="5" font-weight="normal">10<tspan dx="1.4" dy="-1.3" font-size="4.8">4</tspan></text>
<text x="183" y="313.5" font-size="6.5" font-weight="bold" text-anchor="start" >CD8</text>
<line x1="199.5" y1="311.2" x2="217.2" y2="311.2" stroke="#000" stroke-width="1.15" />
<polygon points="222.2,311.2 216.7,313.8 216.7,308.6" fill="#000"/>
<text x="277.7" y="237.3" font-size="6.45" font-weight="bold" text-anchor="middle" >% High MM</text>
<text x="277.9" y="245" font-size="6.45" font-weight="bold" text-anchor="middle" >CD8+ T cells</text>
<line x1="317" y1="188.8" x2="446.8" y2="188.8" stroke="#555" stroke-width="0.7" />
<line x1="446.8" y1="188.8" x2="446.8" y2="280.3" stroke="#777" stroke-width="0.7" />
<text x="313.3" y="282.7" font-size="6.6" font-weight="bold" text-anchor="end" >0</text>
<line x1="315" y1="280.3" x2="317" y2="280.3" stroke="#222" stroke-width="0.7" />
<text x="313.3" y="273.58" font-size="6.6" font-weight="bold" text-anchor="end" >10</text>
<line x1="315" y1="271.18" x2="317" y2="271.18" stroke="#222" stroke-width="0.7" />
<text x="313.3" y="264.46" font-size="6.6" font-weight="bold" text-anchor="end" >20</text>
<line x1="315" y1="262.06" x2="317" y2="262.06" stroke="#222" stroke-width="0.7" />
<text x="313.3" y="255.34" font-size="6.6" font-weight="bold" text-anchor="end" >30</text>
<line x1="315" y1="252.94" x2="317" y2="252.94" stroke="#222" stroke-width="0.7" />
<text x="313.3" y="246.22" font-size="6.6" font-weight="bold" text-anchor="end" >40</text>
<line x1="315" y1="243.82" x2="317" y2="243.82" stroke="#222" stroke-width="0.7" />
<text x="313.3" y="237.1" font-size="6.6" font-weight="bold" text-anchor="end" >50</text>
<line x1="315" y1="234.7" x2="317" y2="234.7" stroke="#222" stroke-width="0.7" />
<text x="313.3" y="227.98" font-size="6.6" font-weight="bold" text-anchor="end" >60</text>
<line x1="315" y1="225.58" x2="317" y2="225.58" stroke="#222" stroke-width="0.7" />
<text x="313.3" y="218.86" font-size="6.6" font-weight="bold" text-anchor="end" >70</text>
<line x1="315" y1="216.46" x2="317" y2="216.46" stroke="#222" stroke-width="0.7" />
<text x="313.3" y="209.74" font-size="6.6" font-weight="bold" text-anchor="end" >80</text>
<line x1="315" y1="207.34" x2="317" y2="207.34" stroke="#222" stroke-width="0.7" />
<text x="313.3" y="200.62" font-size="6.6" font-weight="bold" text-anchor="end" >90</text>
<line x1="315" y1="198.22" x2="317" y2="198.22" stroke="#222" stroke-width="0.7" />
<rect x="320.5" y="269.36" width="12.1" height="10.94" fill="#fff" stroke="#000" stroke-width="0.9" />
<rect x="332.6" y="257.5" width="12.4" height="22.8" fill="#000"/>
<line x1="326.55" y1="266.35" x2="326.55" y2="272.37" stroke="#000" stroke-width="0.8" />
<line x1="323.95" y1="266.35" x2="329.15000000000003" y2="266.35" stroke="#000" stroke-width="0.8" />
<line x1="323.95" y1="272.37" x2="329.15000000000003" y2="272.37" stroke="#000" stroke-width="0.8" />
<line x1="338.8" y1="256.59" x2="338.8" y2="257.5" stroke="#000" stroke-width="0.8" />
<line x1="336.2" y1="256.59" x2="341.40000000000003" y2="256.59" stroke="#000" stroke-width="0.8" />
<rect x="351.3" y="242.0" width="12.0" height="38.3" fill="#fff" stroke="#000" stroke-width="0.9" />
<rect x="363.3" y="232.88" width="11.7" height="47.42" fill="#000"/>
<line x1="357.3" y1="236.07" x2="357.3" y2="247.92" stroke="#000" stroke-width="0.8" />
<line x1="354.7" y1="236.07" x2="359.90000000000003" y2="236.07" stroke="#000" stroke-width="0.8" />
<line x1="354.7" y1="247.92" x2="359.90000000000003" y2="247.92" stroke="#000" stroke-width="0.8" />
<line x1="369.15" y1="226.77" x2="369.15" y2="232.88" stroke="#000" stroke-width="0.8" />
<line x1="366.54999999999995" y1="226.77" x2="371.75" y2="226.77" stroke="#000" stroke-width="0.8" />
<rect x="383.8" y="206.43" width="12.4" height="73.87" fill="#fff" stroke="#000" stroke-width="0.9" />
<rect x="396.2" y="199.13" width="12.6" height="81.17" fill="#000"/>
<line x1="390.0" y1="203.97" x2="390.0" y2="208.89" stroke="#000" stroke-width="0.8" />
<line x1="387.4" y1="203.97" x2="392.6" y2="203.97" stroke="#000" stroke-width="0.8" />
<line x1="387.4" y1="208.89" x2="392.6" y2="208.89" stroke="#000" stroke-width="0.8" />
<line x1="402.5" y1="196.67" x2="402.5" y2="199.13" stroke="#000" stroke-width="0.8" />
<line x1="399.9" y1="196.67" x2="405.1" y2="196.67" stroke="#000" stroke-width="0.8" />
<rect x="415.6" y="242.0" width="11.8" height="38.3" fill="#fff" stroke="#000" stroke-width="0.9" />
<rect x="427.4" y="228.32" width="12.1" height="51.98" fill="#000"/>
<line x1="421.5" y1="231.05" x2="421.5" y2="252.94" stroke="#000" stroke-width="0.8" />
<line x1="418.9" y1="231.05" x2="424.1" y2="231.05" stroke="#000" stroke-width="0.8" />
<line x1="418.9" y1="252.94" x2="424.1" y2="252.94" stroke="#000" stroke-width="0.8" />
<line x1="433.45" y1="217.37" x2="433.45" y2="228.32" stroke="#000" stroke-width="0.8" />
<line x1="430.84999999999997" y1="217.37" x2="436.05" y2="217.37" stroke="#000" stroke-width="0.8" />
<line x1="317" y1="188.8" x2="317" y2="280.8" stroke="#000" stroke-width="1" />
<line x1="316.5" y1="280.3" x2="446.8" y2="280.3" stroke="#000" stroke-width="1" />
<line x1="347.5" y1="280.3" x2="347.5" y2="282.8" stroke="#222" stroke-width="0.7" />
<line x1="379.5" y1="280.3" x2="379.5" y2="282.8" stroke="#222" stroke-width="0.7" />
<line x1="411.3" y1="280.3" x2="411.3" y2="282.8" stroke="#222" stroke-width="0.7" />
<path d="M326.3,251.1 L326.3,249.4 L339.3,249.4 L339.3,251.1" fill="none" stroke="#333" stroke-width="0.8"/>
<text x="332.5" y="249.3" font-size="6" font-weight="bold" text-anchor="middle" >*</text>
<rect x="324" y="180.3" width="7.2" height="5.2" fill="#fff" stroke="#000" stroke-width="0.8" />
<text x="332.6" y="185" font-size="6.5" font-weight="bold" text-anchor="start" >CD38+CD8+</text>
<rect x="390" y="181.3" width="8" height="5" fill="#000"/>
<text x="399.5" y="186.2" font-size="6.6" font-weight="bold" text-anchor="start" >CD38-CD8+</text>
<text x="330.4" y="292.6" font-size="5.3" font-weight="bold" text-anchor="middle" >CD8+ T</text>
<text x="330.4" y="299.2" font-size="5.3" font-weight="bold" text-anchor="middle" >cells</text>
<text x="330.4" y="305.8" font-size="5.3" font-weight="bold" text-anchor="middle" >HIV-</text>
<text x="363.2" y="292.6" font-size="5.3" font-weight="bold" text-anchor="middle" >CD8+ T</text>
<text x="363.2" y="299.2" font-size="5.3" font-weight="bold" text-anchor="middle" >cells</text>
<text x="363.2" y="305.8" font-size="5.3" font-weight="bold" text-anchor="middle" >HIV+</text>
<text x="395.4" y="292.6" font-size="5.4" font-weight="bold" text-anchor="middle" >HIV-specific</text>
<text x="395.4" y="299.0" font-size="5.4" font-weight="bold" text-anchor="middle" >CD8+ T cells</text>
<text x="430.6" y="292.6" font-size="5.4" font-weight="bold" text-anchor="middle" >CMV-specific</text>
<text x="430.6" y="299.0" font-size="5.4" font-weight="bold" text-anchor="middle" >CD8+ T cells</text>
<text x="418.8" y="316.8" font-size="6.4" font-weight="bold">* <tspan font-style="italic">P</tspan> &lt; .03</text>
</svg></body></html>
